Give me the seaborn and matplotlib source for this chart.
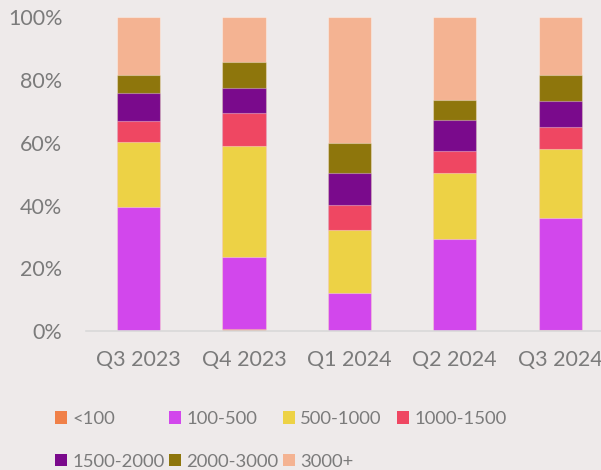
import matplotlib
matplotlib.use("Agg")
import matplotlib.pyplot as plt
from matplotlib.patches import Patch
import seaborn as sns
import numpy as np
import pandas as pd

# Share of items by price band per quarter (%)
quarters = ["Q3 2023", "Q4 2023", "Q1 2024", "Q2 2024", "Q3 2024"]
bands = ["<100", "100-500", "500-1000", "1000-1500", "1500-2000", "2000-3000", "3000+"]
lt100 = [0.1, 0.6, 0.0, 0.0, 0.4]
b100_500 = [39.6, 23.1, 12.2, 29.3, 35.7]
b500_1000 = [20.6, 35.4, 20.1, 21.0, 21.8]
b1000_1500 = [6.6, 10.4, 8.0, 7.0, 7.1]
b1500_2000 = [9.1, 7.9, 10.2, 10.0, 8.5]
b2000_3000 = [5.8, 8.5, 9.4, 6.5, 8.3]
b3000_plus = [18.2, 14.1, 40.1, 26.2, 18.2]
colors = ["#F08048", "#D247EC", "#EDD245", "#EF4762", "#7A0A8C", "#8E760C", "#F4B392"]

df = pd.DataFrame(
    [lt100, b100_500, b500_1000, b1000_1500, b1500_2000, b2000_3000, b3000_plus],
    index=bands, columns=quarters,
)
df = df / df.sum() * 100
cum = df.cumsum()

bg = "#EEEAEA"
txt = "#7B7B7B"
sns.set_theme(style="white", rc={"axes.facecolor": bg, "figure.facecolor": bg})
plt.rcParams["font.family"] = ["Lato", "DejaVu Sans"]

fig = plt.figure(figsize=(6.01, 4.70), dpi=100)
ax = fig.add_axes([0.1431, 0.2957, 0.8569, 0.6671])

# stacked bars: draw cumulative totals from the top band down
for band, col in zip(bands[::-1], colors[::-1]):
    sns.barplot(x=quarters, y=cum.loc[band].values, color=col, width=0.41,
                saturation=1, edgecolor=(1, 1, 1, 0.35), linewidth=0.8,
                ax=ax, zorder=2)

ax.set_xlim(-0.5, 4.388)
ax.set_ylim(0, 100)
ax.set_yticks(np.arange(0, 101, 20))
ax.set_yticklabels([f"{v}%" for v in range(0, 101, 20)])
ax.tick_params(axis="both", colors=txt, labelsize=15.5, length=0)
ax.tick_params(axis="y", pad=17)
ax.tick_params(axis="x", pad=14)
for s in ["top", "right", "left"]:
    ax.spines[s].set_visible(False)
ax.spines["bottom"].set_color("#D9D9D9")
ax.spines["bottom"].set_linewidth(1.2)
ax.set_xlabel("")
ax.set_ylabel("")

# legend: four fixed-width columns, filled row by row
col_x = [55, 169, 283, 397]
for c, x in enumerate(col_x):
    idx = [i for i in (c, c + 4) if i < len(bands)]
    handles = [Patch(facecolor=colors[i], edgecolor="none", label=bands[i]) for i in idx]
    fig.legend(handles=handles, loc="upper left",
               bbox_to_anchor=(x / 601, 1 - 411 / 470), frameon=False,
               fontsize=13.3, labelcolor=txt, handlelength=0.65, handleheight=0.65,
               handletextpad=0.28, labelspacing=1.45,
               borderaxespad=0, borderpad=0)

fig.savefig("out.png", dpi=100, facecolor=bg)
